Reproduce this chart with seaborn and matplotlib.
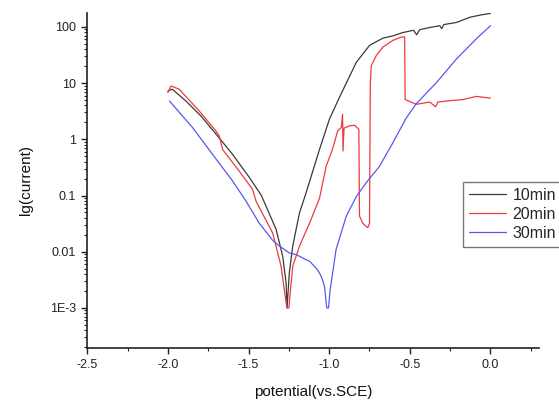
import numpy as np
import pandas as pd
import matplotlib
matplotlib.use("Agg")
import matplotlib.pyplot as plt
import matplotlib.ticker as mticker
import seaborn as sns

# potential (V vs. SCE) and current
pot_10 = [-2.0, -1.973, -1.888, -1.795, -1.692, -1.599, -1.495, -1.42, -1.329, -1.288,
          -1.267, -1.261, -1.247, -1.226, -1.184, -1.143, -1.06, -0.998, -0.936, -0.832,
          -0.75, -0.667, -0.605, -0.543, -0.476, -0.458, -0.439, -0.377, -0.315, -0.302,
          -0.29, -0.211, -0.129, -0.066, 0.0]
cur_10 = [7.2, 7.8, 4.8, 2.6, 1.15, 0.54, 0.21, 0.1, 0.025, 0.0083,
          0.0028, 0.001, 0.0042, 0.0126, 0.049, 0.112, 0.66, 2.3, 5.6, 23.4,
          46.8, 63.1, 69.2, 79.4, 87.1, 72.4, 89.1, 97.7, 105, 93.3,
          110, 120, 148, 162, 174]

pot_20 = [-2.0, -1.98, -1.93, -1.806, -1.702, -1.681, -1.671, -1.661, -1.557, -1.475,
          -1.453, -1.35, -1.298, -1.278, -1.262, -1.25, -1.226, -1.184, -1.122, -1.06,
          -1.019, -0.98, -0.947, -0.925, -0.917, -0.914, -0.908, -0.874, -0.843, -0.816,
          -0.812, -0.791, -0.77, -0.76, -0.75, -0.745, -0.739, -0.708, -0.667, -0.605,
          -0.553, -0.532, -0.529, -0.46, -0.377, -0.34, -0.327, -0.273, -0.17, -0.087, 0.0]
cur_20 = [6.8, 8.9, 7.8, 3.2, 1.41, 1.15, 0.87, 0.66, 0.27, 0.129,
          0.079, 0.0214, 0.0055, 0.0021, 0.001, 0.001, 0.0055, 0.0126, 0.032, 0.089,
          0.33, 0.66, 1.41, 1.62, 2.8, 0.62, 1.58, 1.74, 1.78, 1.51,
          0.043, 0.032, 0.028, 0.027, 0.032, 10.0, 20.4, 30.9, 43.7, 57.5,
          66.1, 66.1, 5.1, 4.2, 4.6, 3.8, 4.6, 4.8, 5.1, 5.8, 5.4]

pot_30 = [-1.99, -1.847, -1.723, -1.599, -1.515, -1.433, -1.352, -1.309, -1.247, -1.205,
          -1.143, -1.122, -1.081, -1.06, -1.042, -1.029, -1.015, -1.004, -0.994, -0.957,
          -0.894, -0.832, -0.77, -0.688, -0.605, -0.522, -0.46, -0.335, -0.211, -0.087, 0.0]
cur_30 = [4.8, 1.62, 0.54, 0.182, 0.079, 0.032, 0.0162, 0.0126, 0.0095, 0.0089,
          0.0072, 0.0068, 0.0051, 0.0042, 0.0032, 0.0024, 0.001, 0.001, 0.0021, 0.011,
          0.043, 0.095, 0.17, 0.33, 0.87, 2.4, 4.3, 10.2, 26.9, 61.7, 105]

labels = ["10min", "20min", "30min"]
colors = ["#3a3a3a", "#ee3b3b", "#5858ee"]

y_ticks = [1e-3, 1e-2, 1e-1, 1, 10, 100]
y_ticklabels = ["1E-3", "0.01", "0.1", "1", "10", "100"]
x_ticks = [-2.5, -2.0, -1.5, -1.0, -0.5, 0.0]

frames = []
for lab, p, c in zip(labels, [pot_10, pot_20, pot_30], [cur_10, cur_20, cur_30]):
    frames.append(pd.DataFrame({"potential": p, "current": c, "time": lab}))
df = pd.concat(frames, ignore_index=True)

sns.set_style("ticks")
plt.rcParams["font.family"] = ["Liberation Sans", "DejaVu Sans"]

fig = plt.figure(figsize=(5.59, 4.01), dpi=100)
ax = fig.add_axes([0.156, 0.132, 0.808, 0.836])

sns.lineplot(data=df, x="potential", y="current", hue="time", palette=colors,
             sort=False, estimator=None, linewidth=0.9, ax=ax, legend=False)

ax.set_yscale("log")
ax.set_ylim(1.93e-4, 178)
ax.set_xlim(-2.5, 0.3)
ax.yaxis.set_major_locator(mticker.FixedLocator(y_ticks))
ax.yaxis.set_major_formatter(mticker.FixedFormatter(y_ticklabels))
ax.yaxis.set_minor_locator(mticker.LogLocator(base=10, subs=np.arange(2, 10)))
ax.yaxis.set_minor_formatter(mticker.NullFormatter())
ax.xaxis.set_major_locator(mticker.FixedLocator(x_ticks))
ax.xaxis.set_major_formatter(mticker.FormatStrFormatter("%.1f"))
ax.xaxis.set_minor_locator(mticker.MultipleLocator(0.25))

ax.tick_params(which="major", direction="out", length=4.5, width=1, labelsize=9, colors="#222222")
ax.tick_params(which="minor", direction="out", length=2.5, width=0.8, colors="#222222")
for s in ["left", "bottom"]:
    ax.spines[s].set_linewidth(1.2)
    ax.spines[s].set_color("#222222")
sns.despine(ax=ax)

ax.set_xlabel("potential(vs.SCE)", fontsize=11, labelpad=10, color="#111111")
ax.set_ylabel("lg(current)", fontsize=11, labelpad=12, color="#111111")

handles = [plt.Line2D([], [], color=c, linewidth=0.9) for c in colors]
leg = fig.legend(handles, labels, loc="upper left", bbox_to_anchor=(0.828, 0.547),
                 fontsize=11.5, frameon=True, fancybox=False, handlelength=2.3,
                 labelspacing=0.25, borderpad=0.4, handletextpad=0.4, borderaxespad=0)
leg.get_frame().set_edgecolor("#555555")
leg.get_frame().set_linewidth(1.0)

fig.savefig("out.png", dpi=100)
